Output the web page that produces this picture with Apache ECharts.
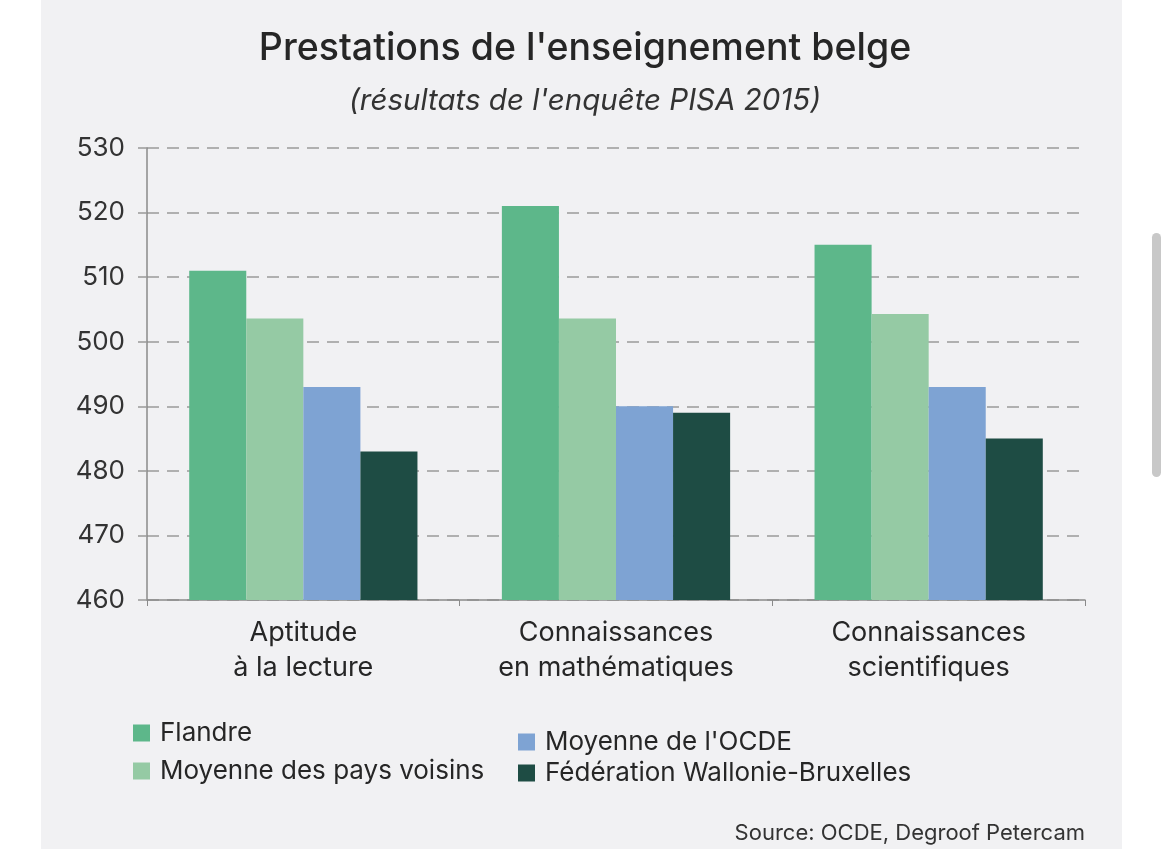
<!DOCTYPE html>
<html>
<head>
<meta charset="utf-8">
<script src="https://cdn.jsdelivr.net/npm/echarts@6/dist/echarts.min.js"></script>
<style>
html,body{margin:0;padding:0;background:#ffffff;}
#chart{width:1170px;height:849px;}
</style>
</head>
<body>
<div id="chart"></div>
<script>
var categories = ["Aptitude\nà la lecture", "Connaissances\nen mathématiques", "Connaissances\nscientifiques"];
var seriesNames = ["Flandre", "Moyenne des pays voisins", "Moyenne de l'OCDE", "Fédération Wallonie-Bruxelles"];
var flandre = [511, 521, 515];
var voisins = [503.6, 503.6, 504.3];
var ocde = [493, 490, 493];
var fwb = [483, 489, 485];
var yTicks = [460, 470, 480, 490, 500, 510, 520, 530];

var colors = ["#5db78a", "#95caa4", "#7ea3d3", "#1e4c44"];
var font = "Inter, 'Open Sans', sans-serif";
var chart = echarts.init(document.getElementById('chart'));
var dataSets = [flandre, voisins, ocde, fwb];

chart.setOption({
  backgroundColor: "#ffffff",
  textStyle: {fontFamily: font},
  graphic: [
    {type: 'rect', z: -10, silent: true, shape: {x: 41, y: 0, width: 1081, height: 849}, style: {fill: '#f1f1f3'}},
    {type: 'rect', z: -10, silent: true, shape: {x: 1152, y: 233, width: 9, height: 244, r: 4.5}, style: {fill: '#c8c8c8'}},
    {type: 'text', right: 85, top: 822, style: {text: 'Source: OCDE, Degroof Petercam', fill: '#333', font: '22px ' + font}}
  ],
  title: [
    {text: "Prestations de l'enseignement belge", left: 'center', top: 25,
     textStyle: {fontSize: 37.5, fontWeight: 500, color: '#262626', fontFamily: font}},
    {text: "(résultats de l'enquête PISA 2015)", left: 'center', top: 81,
     textStyle: {fontSize: 29.5, fontWeight: 'normal', fontStyle: 'italic', color: '#333', fontFamily: font}}
  ],
  legend: [
    {data: seriesNames.slice(0, 2), orient: 'vertical', left: 133, top: 720, padding: 0, itemWidth: 17, itemHeight: 17, itemGap: 12,
     icon: 'rect', textStyle: {fontSize: 26, color: '#262626', fontFamily: font, padding: [0, 0, 0, 5]}},
    {data: seriesNames.slice(2, 4), orient: 'vertical', left: 518, top: 729, padding: 0, itemWidth: 17, itemHeight: 17, itemGap: 5,
     icon: 'rect', textStyle: {fontSize: 26, color: '#262626', fontFamily: font, padding: [0, 0, 0, 5]}}
  ],
  grid: {left: 147, right: 85, top: 148, bottom: 249},
  xAxis: {
    type: 'category', data: categories,
    axisLine: {lineStyle: {color: '#8a8a8a', width: 1.5}},
    axisTick: {show: true, length: 6, lineStyle: {color: '#8a8a8a'}},
    axisLabel: {fontSize: 27, color: '#262626', lineHeight: 35, margin: 15, fontFamily: font}
  },
  yAxis: {
    type: 'value', min: 460, max: 530, interval: 10,
    axisLine: {show: true, lineStyle: {color: '#8a8a8a', width: 1.5}},
    axisTick: {show: true, length: 9, lineStyle: {color: '#999', width: 1.5}},
    axisLabel: {fontSize: 26, color: '#333', margin: 22, fontFamily: font,
      formatter: function (v) { return yTicks.indexOf(v) >= 0 ? String(v) : ''; }},
    splitLine: {show: true, lineStyle: {color: '#9a9a9a', width: 1.5, type: [12, 8]}}
  },
  series: seriesNames.map(function (n, i) {
    return {name: n, type: 'bar', data: dataSets[i], barGap: '0%', barCategoryGap: '27%',
      itemStyle: {color: colors[i]}, z: 3};
  })
});
</script>
</body>
</html>
